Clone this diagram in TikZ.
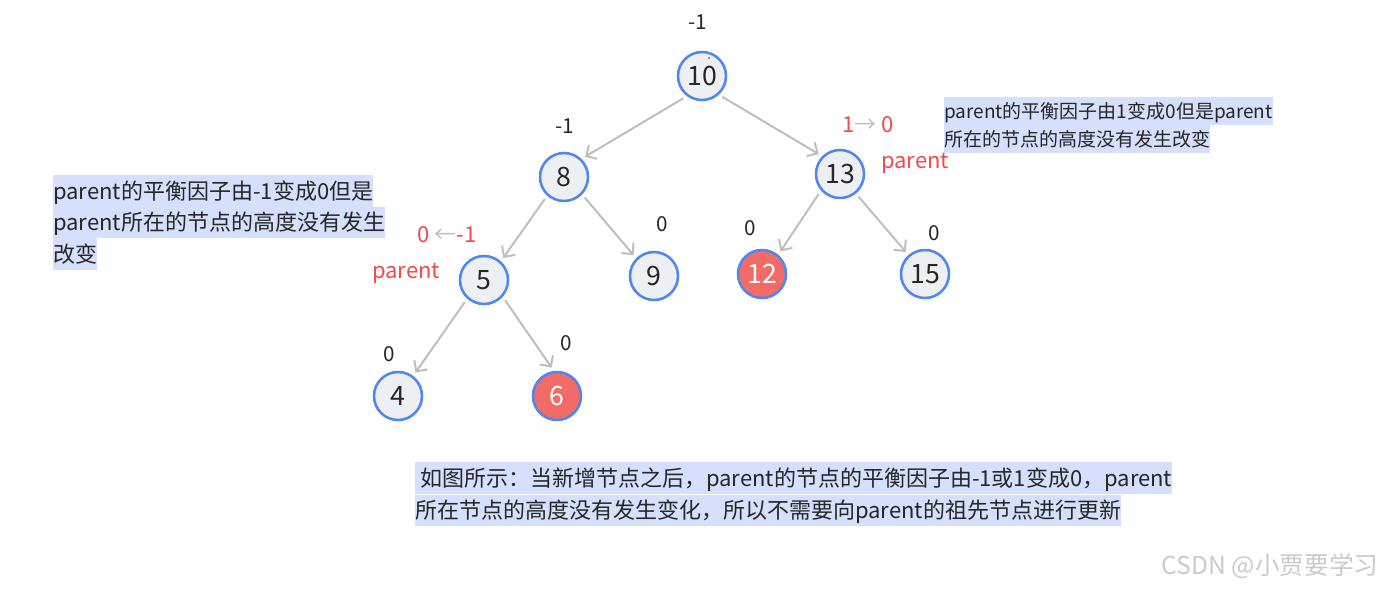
\documentclass[tikz,border=0pt]{standalone}
\usepackage{fontspec}
\setmainfont{Noto Sans CJK SC}
\usetikzlibrary{arrows.meta}
\definecolor{ringblue}{HTML}{4F86F0}
\definecolor{keygray}{HTML}{EEEFF2}
\definecolor{keyred}{HTML}{F26B66}
\definecolor{edgegray}{HTML}{BEBEBE}
\definecolor{bfred}{HTML}{F04A4A}
\definecolor{hlblue}{HTML}{D6E0FC}
\definecolor{inktext}{HTML}{262626}
\definecolor{wmgray}{HTML}{CACACA}
\tikzset{
  avl/.style={circle, draw=ringblue, line width=1.9pt, fill=keygray, minimum size=36pt,
    inner sep=0pt, text=inktext, font=\fontsize{20}{22}\selectfont},
  avlnew/.style={avl, fill=keyred, text=white},
  link/.style={draw=edgegray, line width=1.5pt, -{Straight Barb[length=6pt,width=12pt]},
    shorten <=3pt, shorten >=3pt},
  bf/.style={text=inktext, inner sep=0pt, font=\fontsize{15.5}{17}\selectfont},
  bfnew/.style={text=bfred, inner sep=0pt, font=\fontsize{16.5}{18}\selectfont},
  noteS/.style={fill=hlblue, anchor=west, inner xsep=0pt, inner ysep=0pt, text=inktext,
    text height=15.9pt, text depth=5.1pt, font=\fontsize{14.25}{21}\selectfont},
  noteL/.style={fill=hlblue, anchor=west, inner xsep=0pt, inner ysep=0pt, text=inktext,
    text height=18pt, text depth=5.8pt, font=\fontsize{16.5}{24}\selectfont}
}
\begin{document}
\begin{tikzpicture}[x=0.75pt, y=-0.75pt]
\useasboundingbox (0,0) rectangle (1392,589);

\node[avl] (n10) at (702,76) {10};
\node[avl] (n8) at (564,177) {8};
\node[avl] (n13) at (840,174) {13};
\node[avl] (n5) at (484,280) {5};
\node[avl] (n9) at (654,276) {9};
\node[avlnew] (n12) at (762,274) {12};
\node[avl] (n15) at (925,274) {15};
\node[avl] (n4) at (398,396) {4};
\node[avlnew] (n6) at (557,396) {6};
\fill[bfred] (709,58) circle (1.2);

\draw[link] (n10.233) -- (n8.46);
\draw[link] (n10.312) -- (n13.135);
\draw[link] (n8.228) -- (n5.48);
\draw[link] (n8.316) -- (n9.135);
\draw[link] (n13.221) -- (n12.50);
\draw[link] (n13.309) -- (n15.131);
\draw[link] (n5.228) -- (n4.53);
\draw[link] (n5.318) -- (n6.97);

\node[bf] (b10) at (698,22) {-1};
\node[bf] (b8) at (565,126) {-1};
\node[bf] (b9) at (662,224) {0};
\node[bf] (b12) at (750,228) {0};
\node[bf] (b15) at (934,233) {0};
\node[bf] (b4) at (389,354) {0};
\node[bf] (b6) at (566,343) {0};

\node[bfnew] (c13) at (868,125) {1\textcolor{edgegray}{→} 0};
\node[bfnew] (p13) at (915,163) {parent};
\node[bfnew] (c5) at (447,235) {0 \textcolor{edgegray}{←}-1};
\node[bfnew] (p5) at (406,273) {parent};

\node[noteS] (r1) at (944,111) {parent的平衡因子由1变成0但是parent};
\node[noteS] (r2) at (944,139) {所在的节点的高度没有发生改变};

\node[noteL] (l1) at (53,191) {parent的平衡因子由-1变成0但是};
\node[noteL] (l2) at (53,222.5) {parent所在的节点的高度没有发生};
\node[noteL] (l3) at (53,254) {改变};

\node[noteL] (m1) at (415,478) {\ 如图所示：当新增节点之后，parent的节点的平衡因子由-1或1变成0，parent};
\node[noteL] (m2) at (415,510.5) {所在节点的高度没有发生变化，所以不需要向parent的祖先节点进行更新};

\node[text=wmgray, inner sep=0pt, font=\fontsize{18.5}{20}\selectfont] (wm) at (1270,566) {CSDN @小贾要学习};
\end{tikzpicture}
\end{document}
